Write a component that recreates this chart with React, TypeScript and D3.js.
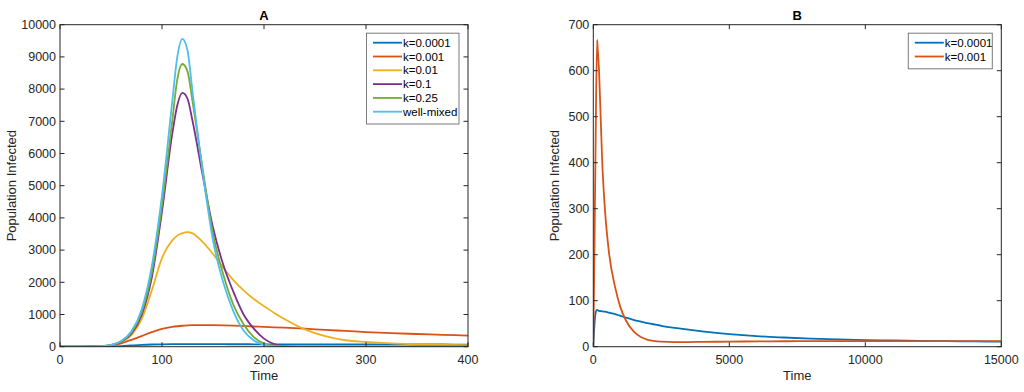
import React from "react";
import * as d3 from "d3";

// Panel A: infected population over time, 0–400
const TIME_A = [0, 20, 40, 50, 60, 70, 80, 90, 100, 110, 115, 120, 125, 130, 140, 150, 160, 170, 180, 190, 200, 210, 220, 240, 260, 280, 300, 325, 350, 375, 400];

const K0001_A = [0, 0, 3, 8, 20, 40, 58, 68, 74, 77, 78, 78, 78, 78, 78, 77, 77, 76, 76, 75, 75, 74, 74, 73, 72, 72, 71, 70, 69, 68, 67];
const K001_A = [0, 0, 10, 30, 105, 210, 330, 450, 555, 615, 635, 650, 660, 667, 670, 668, 662, 652, 640, 628, 615, 603, 590, 562, 522, 490, 455, 420, 395, 370, 345];
const K01_A = [0, 0, 10, 40, 150, 360, 850, 1750, 2750, 3300, 3450, 3530, 3560, 3520, 3250, 2880, 2450, 2070, 1750, 1480, 1260, 1050, 860, 540, 330, 200, 150, 105, 75, 58, 48];
const K1_A = [0, 0, 15, 50, 150, 400, 980, 2150, 4200, 6600, 7500, 7880, 7700, 7000, 5300, 3700, 2550, 1700, 1000, 560, 250, 80, 20, 3, 0, 0, 0, 0, 0, 0, 0];
const K25_A = [0, 0, 18, 55, 165, 440, 1060, 2300, 4400, 7000, 8300, 8780, 8550, 7600, 5500, 3500, 2250, 1300, 700, 300, 100, 30, 8, 1, 0, 0, 0, 0, 0, 0, 0];
const WELL_A = [0, 0, 20, 60, 180, 480, 1150, 2500, 4700, 7600, 9000, 9560, 9200, 7900, 5400, 3300, 2000, 1100, 500, 190, 60, 15, 3, 0, 0, 0, 0, 0, 0, 0, 0];

// Panel B: long-run behaviour, 0–15000
const TIME_B = [0, 40, 80, 140, 160, 210, 270, 330, 430, 580, 800, 1000, 1200, 1500, 1750, 2000, 2500, 3000, 3500, 4000, 5000, 6000, 7000, 8000, 9000, 10000, 11000, 12000, 13000, 14000, 15000];
const K0001_B = [0, 45, 72, 80, 79, 78, 77.5, 77, 76, 74, 71, 67, 63, 58, 54.5, 51, 45.5, 41, 37, 33.5, 27.5, 23, 20, 17.5, 16, 14.5, 13.5, 12.8, 12, 11.5, 11];
const K001_B = [0, 200, 420, 667, 650, 601, 500, 400, 297, 203, 130, 85, 57, 32, 21, 15, 11, 10, 10, 10.5, 11, 11.5, 11.8, 12, 12, 12, 12, 12, 12, 12, 12];

const X_TICKS_A = [0, 100, 200, 300, 400];
const Y_TICKS_A = [0, 1000, 2000, 3000, 4000, 5000, 6000, 7000, 8000, 9000, 10000];
const X_TICKS_B = [0, 5000, 10000, 15000];
const Y_TICKS_B = [0, 100, 200, 300, 400, 500, 600, 700];

const LABELS_A = ["k=0.0001", "k=0.001", "k=0.01", "k=0.1", "k=0.25", "well-mixed"];
const LABELS_B = ["k=0.0001", "k=0.001"];

const COLORS = ["#0072BD", "#D95319", "#EDB120", "#7E2F8E", "#77AC30", "#4DBEEE"];

const W = 1024;
const H = 392;
const FONT = "Liberation Sans, Arial, Helvetica, sans-serif";
const INK = "#262626";
const TICK_LEN = 4.5;

interface PanelProps {
  title: string;
  left: number;
  right: number;
  top: number;
  bottom: number;
  xDomain: [number, number];
  yDomain: [number, number];
  xTicks: number[];
  yTicks: number[];
  time: number[];
  series: number[][];
  labels: string[];
  legendW: number;
  yLabelX: number;
}

const Panel: React.FC<PanelProps> = (p) => {
  const x = d3.scaleLinear().domain(p.xDomain).range([p.left, p.right]);
  const y = d3.scaleLinear().domain(p.yDomain).range([p.bottom, p.top]);
  const line = d3
    .line<number>()
    .x((_, i) => x(p.time[i]))
    .y((v) => y(v))
    .curve(d3.curveMonotoneX);

  const legX = p.right - 9 - p.legendW;
  const legY = p.top + 8.5;
  const rowH = 13.8;
  const legH = p.labels.length * rowH + 8;
  const midY = (p.top + p.bottom) / 2;

  return (
    <g fontFamily={FONT}>
      <clipPath id={`clip-${p.title}`}>
        <rect x={p.left} y={p.top} width={p.right - p.left} height={p.bottom - p.top} />
      </clipPath>

      {/* series */}
      <g clipPath={`url(#clip-${p.title})`}>
        {p.series.map((s, i) => (
          <path key={i} d={line(s) ?? ""} fill="none" stroke={COLORS[i]} strokeWidth={1.8} strokeLinejoin="round" />
        ))}
      </g>

      {/* box + ticks */}
      <rect x={p.left} y={p.top} width={p.right - p.left} height={p.bottom - p.top} fill="none" stroke={INK} strokeWidth={1} />
      {p.xTicks.map((t) => (
        <g key={t}>
          <line x1={x(t)} x2={x(t)} y1={p.bottom} y2={p.bottom - TICK_LEN} stroke={INK} />
          <line x1={x(t)} x2={x(t)} y1={p.top} y2={p.top + TICK_LEN} stroke={INK} />
          <text x={x(t)} y={p.bottom + 17} textAnchor="middle" fontSize={12.5} fill={INK}>
            {t}
          </text>
        </g>
      ))}
      {p.yTicks.map((t) => (
        <g key={t}>
          <line x1={p.left} x2={p.left + TICK_LEN} y1={y(t)} y2={y(t)} stroke={INK} />
          <line x1={p.right} x2={p.right - TICK_LEN} y1={y(t)} y2={y(t)} stroke={INK} />
          <text x={p.left - 4} y={y(t)} dy="0.35em" textAnchor="end" fontSize={12.5} fill={INK}>
            {t}
          </text>
        </g>
      ))}

      {/* labels */}
      <text x={(p.left + p.right) / 2} y={20} textAnchor="middle" fontSize={13} fontWeight="bold" fill="#000">
        {p.title}
      </text>
      <text x={(p.left + p.right) / 2} y={p.bottom + 33} textAnchor="middle" fontSize={13} fill={INK}>
        Time
      </text>
      <text
        transform={`translate(${p.yLabelX},${midY}) rotate(-90)`}
        textAnchor="middle"
        fontSize={13}
        fill={INK}
      >
        Population Infected
      </text>

      {/* legend */}
      <rect x={legX} y={legY} width={p.legendW} height={legH} fill="#fff" stroke="#7a7a7a" strokeWidth={1} />
      {p.labels.map((lab, i) => {
        const ry = legY + 9.5 + i * rowH;
        return (
          <g key={lab}>
            <line x1={legX + 6.5} x2={legX + 35.5} y1={ry} y2={ry} stroke={COLORS[i]} strokeWidth={1.8} />
            <text x={legX + 36.5} y={ry} dy="0.35em" fontSize={11.5} fill="#000">
              {lab}
            </text>
          </g>
        );
      })}
    </g>
  );
};

export default function App() {
  return (
    <svg width={W} height={H} style={{ position: "absolute", left: 0, top: 0, background: "#fff" }}>
      <rect width={W} height={H} fill="#fff" />
      <Panel
        title="A"
        left={60}
        right={468}
        top={24.7}
        bottom={346.7}
        xDomain={[0, 400]}
        yDomain={[0, 10000]}
        xTicks={X_TICKS_A}
        yTicks={Y_TICKS_A}
        time={TIME_A}
        series={[K0001_A, K001_A, K01_A, K1_A, K25_A, WELL_A]}
        labels={LABELS_A}
        legendW={92.5}
        yLabelX={16}
      />
      <Panel
        title="B"
        left={593.3}
        right={1001.3}
        top={24.7}
        bottom={346.7}
        xDomain={[0, 15000]}
        yDomain={[0, 700]}
        xTicks={X_TICKS_B}
        yTicks={Y_TICKS_B}
        time={TIME_B}
        series={[K0001_B, K001_B]}
        labels={LABELS_B}
        legendW={84}
        yLabelX={559}
      />
    </svg>
  );
}
